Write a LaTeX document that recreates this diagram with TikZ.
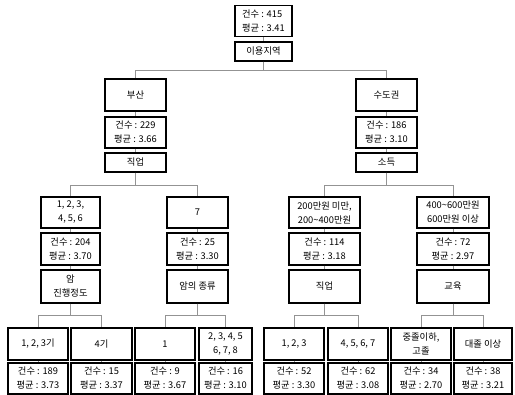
\documentclass[tikz,border=0pt]{standalone}
\usepackage{fontspec}
\setmainfont{Noto Sans CJK KR}
\usepackage{tikz}
\usetikzlibrary{positioning, calc}
\tikzstyle{cell}=[draw,line width=1.4pt,inner sep=1pt,align=center,font=\fontsize{9.3}{14}\selectfont]
\tikzstyle{stat}=[cell,minimum height=31pt]
\tikzstyle{split}=[cell,minimum height=19pt]
\tikzstyle{link}=[draw=gray!85,line width=0.7pt]

\begin{document}
\begin{tikzpicture}[x=1pt,y=-1pt]
    \useasboundingbox (0,0) rectangle (515,395);
    % root
    \node [stat,minimum width=57pt,align=left] (all) at (263.5,21) {건수 : 415\\평균 : 3.41};
    \node [split,minimum width=57pt] (allv) at (263.5,51.5) {이용지역};
    % level 1
    \node [stat,minimum width=61pt,minimum height=32pt] (bs) at (135.5,95) {부산};
    \node [stat,minimum width=61pt] (bsn) at (135.5,132.5) {건수 : 229\\평균 : 3.66};
    \node [split,minimum width=61pt] (bsv) at (135.5,162.5) {직업};
    \node [stat,minimum width=61pt,minimum height=32pt] (sd) at (386.5,95) {수도권};
    \node [stat,minimum width=61pt] (sdn) at (386.5,132.5) {건수 : 186\\평균 : 3.10};
    \node [split,minimum width=61pt] (sdv) at (386.5,162.5) {소득};
    % level 2
    \node [stat,minimum width=59pt] (j1) at (70.5,212.5) {1, 2, 3,\\4, 5, 6};
    \node [stat,minimum width=59pt,minimum height=32pt] (j1n) at (70.5,249) {건수 : 204\\평균 : 3.70};
    \node [stat,minimum width=59pt,minimum height=33pt] (j1v) at (70.5,286.5) {암\\진행정도};
    \node [stat,minimum width=61pt] (j2) at (197.5,212.5) {7};
    \node [stat,minimum width=61pt,minimum height=32pt] (j2n) at (197.5,249) {건수 : 25\\평균 : 3.30};
    \node [stat,minimum width=61pt,minimum height=33pt] (j2v) at (197.5,286.5) {암의 종류};
    \node [stat,minimum width=71pt] (s1) at (324.5,212.5) {200만원 미만,\\200\textasciitilde400만원};
    \node [stat,minimum width=71pt,minimum height=32pt] (s1n) at (324.5,249) {건수 : 114\\평균 : 3.18};
    \node [stat,minimum width=71pt,minimum height=33pt] (s1v) at (324.5,286.5) {직업};
    \node [stat,minimum width=72pt] (s2) at (453,212.5) {400\textasciitilde600만원\\600만원 이상};
    \node [stat,minimum width=72pt,minimum height=32pt] (s2n) at (453,249) {건수 : 72\\평균 : 2.97};
    \node [stat,minimum width=72pt,minimum height=33pt] (s2v) at (453,286.5) {교육};
    % level 3
    \node [stat,minimum width=60pt,minimum height=32pt] (g1) at (38,344) {1, 2, 3기};
    \node [stat,minimum width=60pt] (g1n) at (38,378.5) {건수 : 189\\평균 : 3.73};
    \node [stat,minimum width=61pt,minimum height=32pt] (g2) at (101.5,344) {4기};
    \node [stat,minimum width=61pt] (g2n) at (101.5,378.5) {건수 : 15\\평균 : 3.37};
    \node [stat,minimum width=60pt,minimum height=32pt] (k1) at (165,344) {1};
    \node [stat,minimum width=60pt] (k1n) at (165,378.5) {건수 : 9\\평균 : 3.67};
    \node [stat,minimum width=53pt,minimum height=32pt] (k2) at (225.5,344) {2, 3, 4, 5\\6, 7, 8};
    \node [stat,minimum width=53pt] (k2n) at (225.5,378.5) {건수 : 16\\평균 : 3.10};
    \node [stat,minimum width=60pt,minimum height=32pt] (o1) at (294,344) {1, 2, 3};
    \node [stat,minimum width=60pt] (o1n) at (294,378.5) {건수 : 52\\평균 : 3.30};
    \node [stat,minimum width=60pt,minimum height=32pt] (o2) at (358,344) {4, 5, 6, 7};
    \node [stat,minimum width=60pt] (o2n) at (358,378.5) {건수 : 62\\평균 : 3.08};
    \node [stat,minimum width=60pt,minimum height=32pt] (e1) at (421,344) {중졸이하,\\고졸};
    \node [stat,minimum width=60pt] (e1n) at (421,378.5) {건수 : 34\\평균 : 2.70};
    \node [stat,minimum width=58pt,minimum height=32pt] (e2) at (483,344) {대졸 이상};
    \node [stat,minimum width=58pt] (e2n) at (483,378.5) {건수 : 38\\평균 : 3.21};
    % links inside a stack
    \foreach \up/\down in {all/allv,bs/bsn,bsn/bsv,sd/sdn,sdn/sdv,
        j1/j1n,j1n/j1v,j2/j2n,j2n/j2v,s1/s1n,s1n/s1v,s2/s2n,s2n/s2v,
        g1/g1n,g2/g2n,k1/k1n,k2/k2n,o1/o1n,o2/o2n,e1/e1n,e2/e2n}
      \draw [link] (\up.south) -- (\down.north);
    % splits
    \foreach \kid in {bs,sd}
      \draw [link] (allv.south) -- ++(0,9) -| (\kid.north);
    \foreach \src/\kid in {bsv/j1,bsv/j2,sdv/s1,sdv/s2}
      \draw [link] (\src.south) -- ++(0,12.5) -| (\kid.north);
    \foreach \src/\kid in {j1v/g1,j1v/g2,j2v/k1,j2v/k2,s1v/o1,s1v/o2,s2v/e1,s2v/e2}
      \draw [link] (\src.south) -- ++(0,12) -| (\kid.north);
\end{tikzpicture}
\end{document}
